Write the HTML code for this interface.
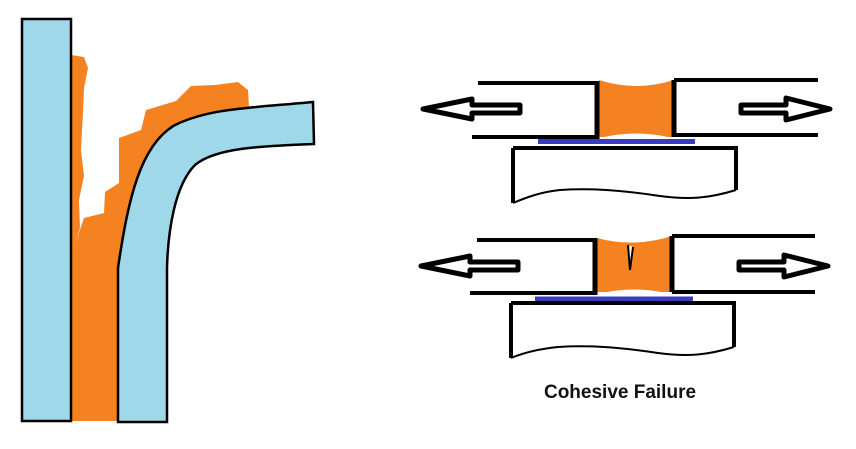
<!DOCTYPE html>
<html><head><meta charset="utf-8"><style>
html,body{margin:0;padding:0;background:#fff;width:856px;height:449px;overflow:hidden}
svg{display:block}
</style></head><body>
<svg width="856" height="449" viewBox="0 0 856 449" xmlns="http://www.w3.org/2000/svg">
<path d="M71,55 L84,57 L88,68 L84,88 L83,112 L81,150 L84,176 L79,200 L80,228 L75,244 L84,218 L104,213 L105,192 L119,183 L119,138 L141,130 L146,110 L176,101 L191,86 L215,85 L238,82 L248,90 L249,108 L200,118 L165,140 L140,190 L118,265 L118,421 L71,421 Z" fill="#f58220"/>
<rect x="22" y="19" width="49" height="402" fill="#9fd8e8" stroke="#000" stroke-width="2.5"/>
<path d="M118,422 L118,268 C128,200 140,145 175,125 C210,108 250,108 313,102 L314,144 C260,146 215,148 195,165 C175,185 168,230 167,268 L167,422 Z" fill="#9fd8e8" stroke="#000" stroke-width="2.5"/>

<g stroke="#000" fill="none">
<path d="M599,80 Q636,92 674,80 L674,137 L599,137 Z" fill="#f58220" stroke="none"/>
<path d="M604,137 Q636,130 668,137 Z" fill="#fff" stroke="none"/>
<line x1="478" y1="83" x2="598" y2="83" stroke-width="4"/>
<line x1="472" y1="137" x2="598" y2="137" stroke-width="4"/>
<line x1="597" y1="81" x2="597" y2="139" stroke-width="5"/>
<line x1="674" y1="80" x2="674" y2="137" stroke-width="5"/>
<line x1="674" y1="80" x2="818" y2="80" stroke-width="4"/>
<line x1="674" y1="135" x2="818" y2="135" stroke-width="4"/>
<line x1="538" y1="141.5" x2="695" y2="141.5" stroke="#3b3bc0" stroke-width="5"/>
<path d="M513,148 L736,148 L736,190" stroke-width="4"/>
<path d="M513,148 L513,203" stroke-width="4"/>
<path d="M736,190 C710,198 690,200 660,196 C620,190 590,188 560,190 C540,192 525,198 513,203" stroke-width="2"/>
<path d="M520,105 L472,105 L472,99 L423,109 L472,119 L472,113 L520,113 Z" stroke-width="5" stroke-linejoin="round"/>
<path d="M741,105 L786,105 L786,98 L830,109 L786,120 L786,113 L741,113 Z" stroke-width="5" stroke-linejoin="round"/>
</g>
<g stroke="#000" fill="none">
<path d="M597,238 Q634,248 672,236 L672,292 L597,292 Z" fill="#f58220" stroke="none"/>
<path d="M602,293 Q634,286 666,293 Z" fill="#fff" stroke="none"/>
<path d="M628,245 L630,270 L633,247" stroke-width="2" fill="#fff"/>
<line x1="477" y1="240" x2="596" y2="240" stroke-width="4"/>
<line x1="470" y1="293" x2="596" y2="293" stroke-width="4"/>
<line x1="595" y1="238" x2="595" y2="295" stroke-width="5"/>
<line x1="672" y1="236" x2="672" y2="292" stroke-width="5"/>
<line x1="672" y1="236" x2="815" y2="236" stroke-width="4"/>
<line x1="672" y1="292" x2="815" y2="292" stroke-width="4"/>
<line x1="535" y1="299" x2="693" y2="299" stroke="#3b3bc0" stroke-width="5"/>
<path d="M511,303 L734,303 L734,347" stroke-width="4"/>
<path d="M511,303 L511,358" stroke-width="4"/>
<path d="M734,347 C708,355 688,357 658,353 C618,347 588,345 558,347 C538,349 523,353 511,358" stroke-width="2"/>
<path d="M518,262 L470,262 L470,256 L421,266 L470,276 L470,270 L518,270 Z" stroke-width="5" stroke-linejoin="round"/>
<path d="M739,262 L784,262 L784,255 L828,266 L784,277 L784,270 L739,270 Z" stroke-width="5" stroke-linejoin="round"/>
</g>
<text x="620" y="398" text-anchor="middle" font-family="Liberation Sans, sans-serif" font-weight="bold" font-size="19" fill="#111">Cohesive Failure</text>
</svg>
</body></html>
